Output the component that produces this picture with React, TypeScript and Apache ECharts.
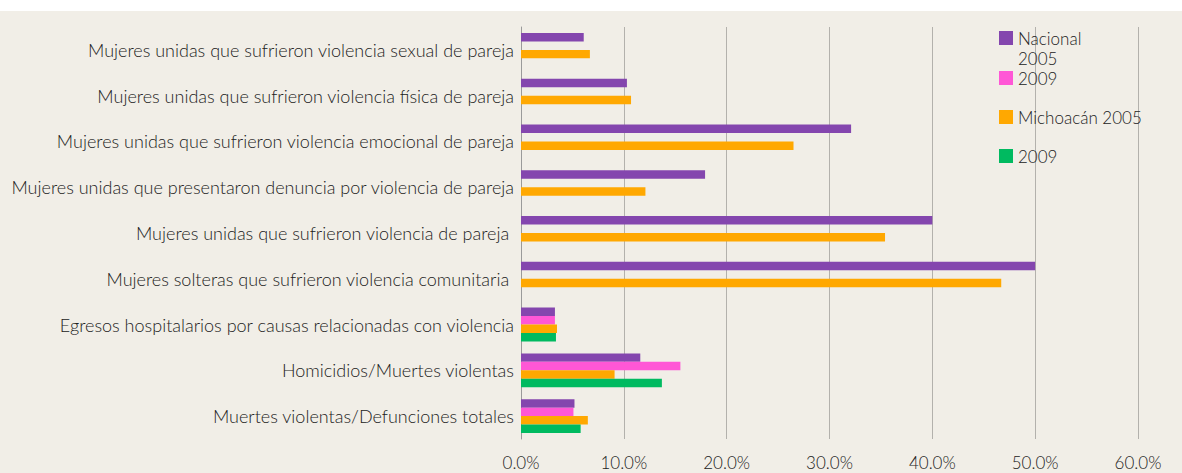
import React, { useEffect, useRef } from "react";
import * as echarts from "echarts";

const categories = [
  "Mujeres unidas que sufrieron violencia sexual de pareja",
  "Mujeres unidas que sufrieron violencia física de pareja",
  "Mujeres unidas que sufrieron violencia emocional de pareja",
  "Mujeres unidas que presentaron denuncia por violencia de pareja",
  "Mujeres unidas que sufrieron violencia de pareja ",
  "Mujeres solteras que sufrieron violencia comunitaria ",
  "Egresos hospitalarios por causas relacionadas con violencia",
  "Homicidios/Muertes violentas",
  "Muertes violentas/Defunciones totales",
];

const nacional2005 = [6.1, 10.3, 32.1, 17.9, 40.0, 50.0, 3.3, 11.6, 5.2];
const nacional2009 = [null, null, null, null, null, null, 3.3, 15.5, 5.1];
const michoacan2005 = [6.7, 10.7, 26.5, 12.1, 35.4, 46.7, 3.5, 9.1, 6.5];
const michoacan2009 = [null, null, null, null, null, null, 3.4, 13.7, 5.8];

const xTicks = [0, 10, 20, 30, 40, 50, 60];

const seriesNames = ["Nacional 2005", "Nacional 2009", "Michoacán 2005", "Michoacán 2009"];
const legendLabels = [" \nNacional\n2005", "2009", "Michoacán 2005", "2009"];
const colors = ["#8446AE", "#FF57D6", "#FFA801", "#00BA60"];

const FONT = "Lato";
const TEXT = "#222222";

export default function App() {
  const ref = useRef<HTMLDivElement>(null);

  useEffect(() => {
    if (!ref.current) return;
    const chart = echarts.init(ref.current, null, { renderer: "svg" });
    const dataSets = [nacional2005, nacional2009, michoacan2005, michoacan2009];
    const legendTops = [8, 68, 107, 146];

    chart.setOption({
      animation: false,
      backgroundColor: "#F1EEE7",
      textStyle: { fontFamily: FONT },
      graphic: [
        {
          type: "rect",
          left: 0,
          top: 0,
          shape: { width: 1182, height: 11 },
          style: { fill: "#ffffff" },
        },
      ],
      grid: { left: 521, right: 44, top: 27, bottom: 34, containLabel: false },
      legend: seriesNames.map((name, i) => ({
        data: [name],
        orient: "vertical",
        left: 999,
        top: legendTops[i],
        padding: 0,
        itemWidth: 14,
        itemHeight: 14,
        icon: "rect",
        formatter: () => legendLabels[i],
        textStyle: {
          fontFamily: FONT,
          fontWeight: 300,
          fontSize: 17,
          color: TEXT,
          lineHeight: 20,
        },
      })),
      xAxis: {
        type: "value",
        min: xTicks[0],
        max: xTicks[xTicks.length - 1],
        interval: 10,
        axisLine: { show: false },
        axisTick: { show: false },
        splitLine: { show: true, lineStyle: { color: "#B3B1AC", width: 1 } },
        axisLabel: {
          margin: 15,
          fontFamily: FONT,
          fontWeight: 300,
          fontSize: 17,
          color: TEXT,
          formatter: (v: number) => v.toFixed(1) + "%",
        },
      },
      yAxis: {
        type: "category",
        data: categories,
        inverse: true,
        axisLine: { show: true, lineStyle: { color: "#9A9A9A", width: 1 } },
        axisTick: { show: false },
        axisLabel: {
          margin: 7,
          fontFamily: FONT,
          fontWeight: 300,
          fontSize: 18,
          color: TEXT,
        },
      },
      series: seriesNames.map((name, i) => ({
        name,
        type: "bar",
        data: dataSets[i],
        itemStyle: { color: colors[i] },
        barGap: "0%",
        barCategoryGap: "26%",
      })),
    });

    return () => chart.dispose();
  }, []);

  return (
    <div
      ref={ref}
      style={{ position: "absolute", left: 0, top: 0, width: 1182, height: 473 }}
    />
  );
}
